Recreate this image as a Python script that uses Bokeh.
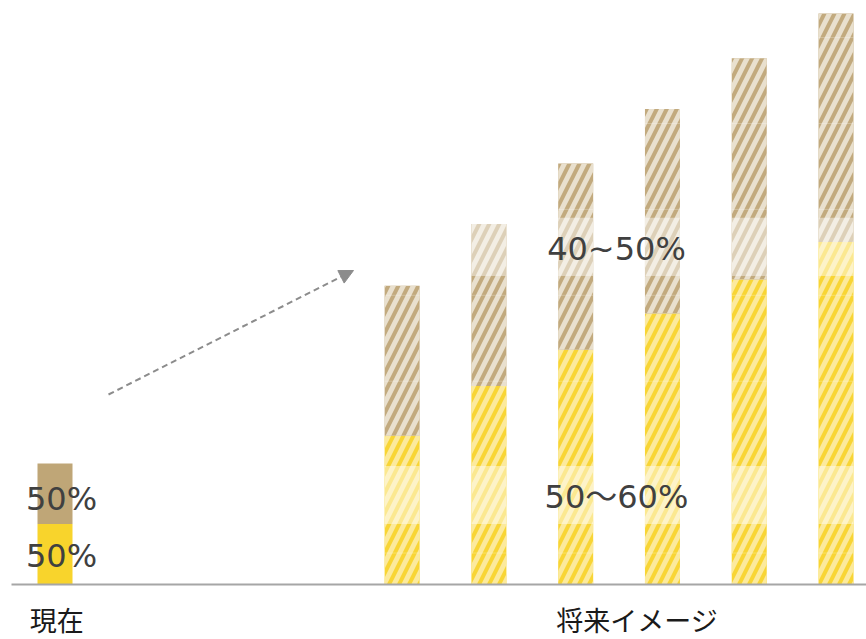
from bokeh.plotting import figure
from bokeh.models import Range1d, Arrow, NormalHead, ColumnDataSource
from bokeh.core.properties import value
from bokeh.embed import file_html
from bokeh.resources import INLINE

# ---------------- data ----------------
current_label = "現在"
future_label = "将来イメージ"
current_x = [0]
current_yellow = [50]
current_tan = [50]
current_texts = ["50%", "50%"]

future_x = [4, 5, 6, 7, 8, 9]
future_yellow = [123, 164, 194, 224, 252, 283]
future_tan = [124, 134, 154, 169, 183, 189]

band_low = [50, 255]
band_high = [98, 303]
band_texts = ["50～60%", "40~50%"]

seams = [26, 168, 239, 310, 381, 452]

# ---------------- styling ----------------
YEL = "#F8D42C"
TAN = "#BFA677"
YEL_H = "#F8D535"
YEL_S = "#FCEA9C"
TAN_H = "#C2AA7E"
TAN_S = "#E9E0CE"
TXT = "#404040"
FONT = value("DejaVu Sans, Noto Sans CJK JP")
JFONT = value("Noto Sans CJK JP")

PX_X = 86.78
PX_Y = 1.21
p = figure(width=866, height=639, output_backend="svg", toolbar_location=None,
           x_range=Range1d(-54.5 / PX_X, (866 - 54.5) / PX_X),
           y_range=Range1d(-(639 - 584) / PX_Y, 584 / PX_Y),
           min_border=0, min_border_left=0, min_border_right=0,
           min_border_top=0, min_border_bottom=0)
p.axis.visible = False
p.grid.visible = False
p.outline_line_color = None
p.background_fill_color = "white"
p.border_fill_color = "white"

W = 35 / PX_X

# current bar (solid)
p.vbar(x=current_x, bottom=0, top=current_yellow, width=W, fill_color=YEL, line_color=None)
p.vbar(x=current_x, bottom=current_yellow,
       top=[a + b for a, b in zip(current_yellow, current_tan)],
       width=W, fill_color=TAN, line_color=None)

# future bars (hatched)
tops = [a + b for a, b in zip(future_yellow, future_tan)]
src = ColumnDataSource(dict(x=future_x, y=future_yellow, top=tops))
p.vbar(x="x", bottom=0, top="y", width=W, source=src, fill_color=YEL_H, line_color=None,
       hatch_pattern="/", hatch_color=YEL_S, hatch_scale=20, hatch_weight=5)
p.vbar(x="x", bottom="y", top="top", width=W, source=src, fill_color=TAN_H, line_color=None,
       hatch_pattern="/", hatch_color=TAN_S, hatch_scale=20, hatch_weight=5)

# faint segment seams
sx0, sx1, sy = [], [], []
for x, t in zip(future_x, tops):
    for s in seams:
        if s < t:
            sx0.append(x - W / 2)
            sx1.append(x + W / 2)
            sy.append(s)
p.segment(x0=sx0, y0=sy, x1=sx1, y1=sy, line_color="white", line_alpha=0.25, line_width=1)

# light bands
bx, bb, bt = [], [], []
for lo, hi in zip(band_low, band_high):
    for x, t in zip(future_x, tops):
        if t > lo:
            bx.append(x)
            bb.append(lo)
            bt.append(min(hi, t))
p.vbar(x=bx, bottom=bb, top=bt, width=W, fill_color="white", fill_alpha=0.45, line_color=None)

# baseline
p.segment(x0=[-43.5 / PX_X], y0=[0], x1=[(866 - 54.5) / PX_X], y1=[0],
          line_color="#A6A6A6", line_width=2)

# current labels
cy = [current_yellow[0] / 2, current_yellow[0] + current_tan[0] / 2]
p.text(x=[0.075, 0.075], y=cy, text=current_texts, text_font=FONT, text_font_size="32px",
       text_color=TXT, text_align="center", text_baseline="middle", y_offset=[2, 5])

# band labels
p.text(x=[6.47, 6.47], y=[(a + b) / 2 for a, b in zip(band_low, band_high)], text=band_texts,
       text_font=FONT, text_font_size="32px", text_color=TXT,
       text_align="center", text_baseline="middle", y_offset=2)

# category labels
ly = -(619 - 584) / PX_Y
p.text(x=[0.02], y=[ly], text=[current_label], text_font=JFONT, text_font_size="27px",
       text_color="#1A1A1A", text_align="center", text_baseline="middle")
p.text(x=[6.71], y=[ly], text=[future_label], text_font=JFONT, text_font_size="27px",
       text_color="#1A1A1A", text_align="center", text_baseline="middle")

# arrow
p.add_layout(Arrow(x_start=(108 - 54.5) / PX_X, y_start=(584 - 394) / PX_Y,
                   x_end=(353 - 54.5) / PX_X, y_end=(584 - 270) / PX_Y,
                   line_color="#8C8C8C", line_width=2, line_dash="6 4",
                   end=NormalHead(size=14, fill_color="#8C8C8C", line_color="#8C8C8C",
                                  line_width=1)))

open("out.html", "w").write(file_html(p, INLINE))
